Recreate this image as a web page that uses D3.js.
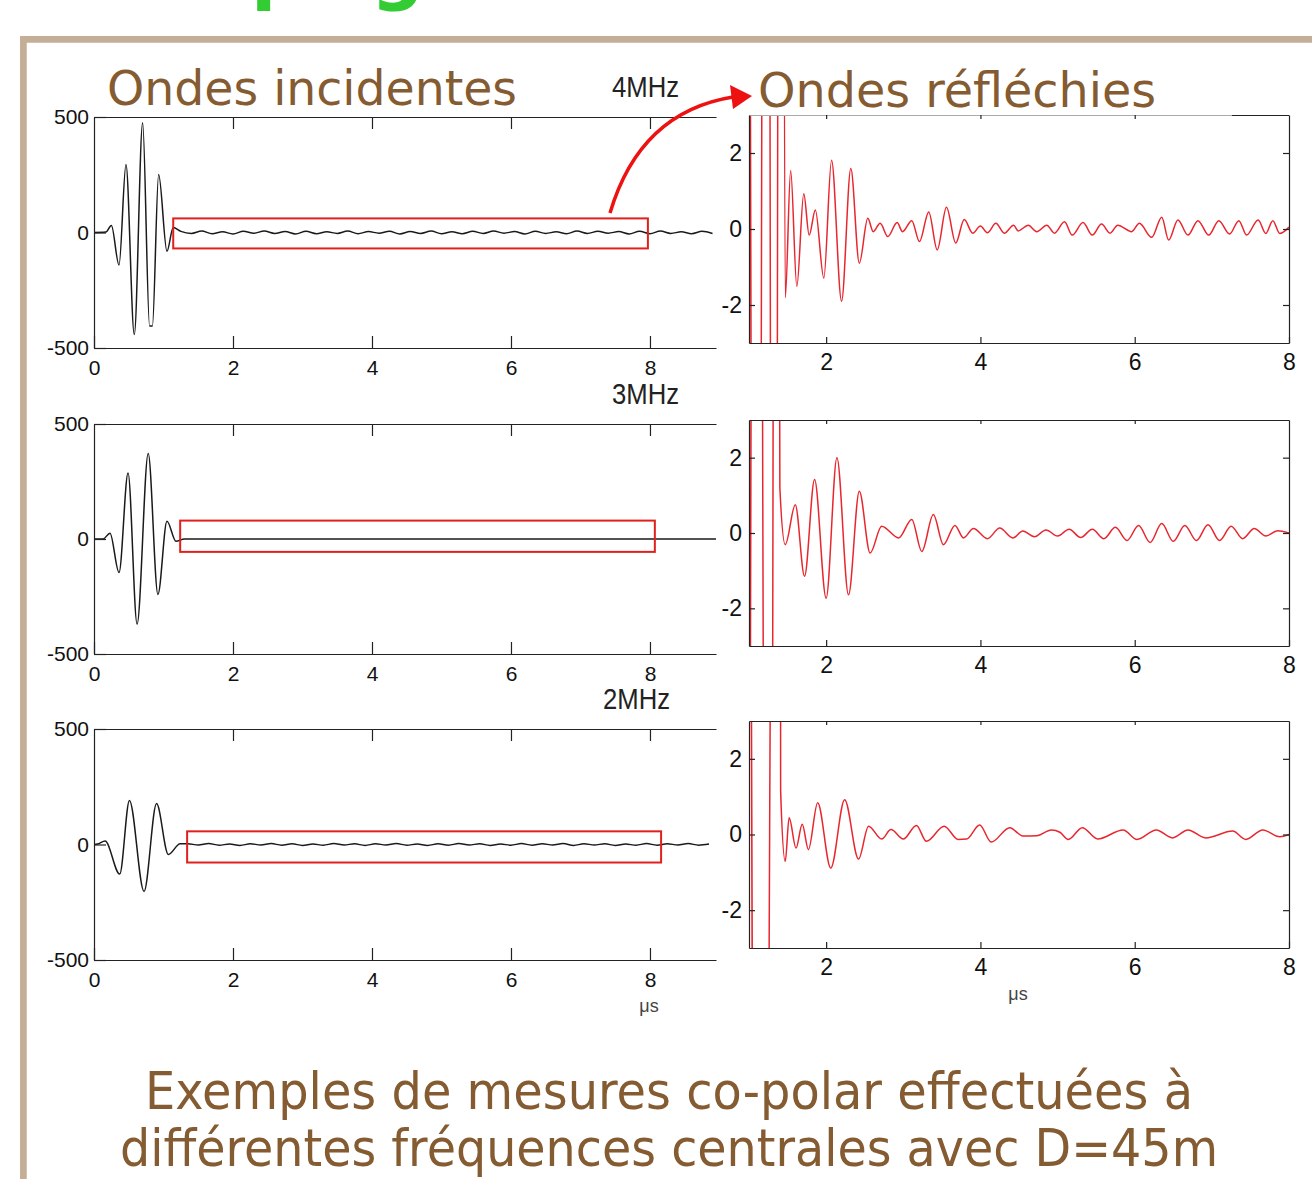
<!DOCTYPE html>
<html>
<head>
<meta charset="utf-8">
<script src="https://cdn.jsdelivr.net/npm/d3@7"></script>
<style>
  body { margin: 0; background: #fff; }
  svg { display: block; }
</style>
</head>
<body>
<div id="chart"></div>
<script>
// ---- valeurs ----
var freqs = ["4MHz", "3MHz", "2MHz"];
var xTicksInc = [0, 2, 4, 6, 8];
var yTicksInc = [500, 0, -500];
var xTicksRef = [2, 4, 6, 8];
var yTicksRef = [2, 0, -2];

// ondes incidentes : [t (µs), amplitude]
var inc4 = [[0, 0], [0.17, 2], [0.25, 30], [0.36, -141], [0.46, 294], [0.58, -442], [0.70, 475],
            [0.80, -405], [0.84, -405], [0.93, 251], [1.05, -81], [1.14, 22]];
var inc3 = [[0, 0], [0.13, 0], [0.23, 25], [0.36, -146], [0.49, 287], [0.62, -370], [0.78, 372],
            [0.92, -241], [1.05, 77], [1.18, -10], [1.30, 0], [8.95, 0]];
var inc2 = [[0, 0], [0.05, 2], [0.16, 15], [0.37, -128], [0.51, 191], [0.72, -203], [0.90, 177],
            [1.07, -43], [1.24, 3]];
// petites oscillations apres l'impulsion, un point tous les 0.15 µs
var tail4 = [5, -4, 6, -5, 3, -6, 5, -3, 6, -4, 4, -6, 5, -5, 3, -4, 6, -5, 4, -3, 5, -6, 4, -4, 6, -5,
             3, -5, 5, -4, 6, -3, 4, -6, 5, -4, 3, -5, 6, -4, 5, -3, 4, -6, 5, -5, 6, -4, 3, -5, 5, -4];
var tail2 = [3, -2, 4, -3, 2, -4, 3, -2, 4, -3, 3, -4, 2, -3, 4, -2, 3, -4, 3, -2, 4, -3, 2, -4, 3,
             -3, 4, -2, 3, -4, 2, -3, 4, -3, 3, -2, 4, -4, 3, -2, 3, -4, 2, -3, 4, -3, 3, -2, 4, -3, 2];

// ondes reflechies (zoom), les grandes valeurs sortent du cadre
var ref4 = [[0.98, 40], [1.10, -40], [1.225, 40], [1.325, -40], [1.415, 40], [1.47, -1.81], [1.54, 1.54],
            [1.62, -1.51], [1.71, 0.93], [1.78, -0.16], [1.86, 0.50], [1.97, -1.29], [2.07, 1.81],
            [2.20, -1.90], [2.32, 1.59], [2.43, -0.90], [2.54, 0.28], [2.61, -0.07], [2.70, 0.15],
            [2.80, -0.20], [2.92, 0.17], [2.99, -0.07], [3.11, 0.22], [3.21, -0.33], [3.33, 0.45],
            [3.44, -0.55], [3.56, 0.57], [3.68, -0.37], [3.79, 0.25], [3.90, -0.11], [4.00, 0.08],
            [4.09, -0.10], [4.20, 0.15], [4.31, -0.11], [4.43, 0.10], [4.49, -0.05], [4.62, 0.10],
            [4.73, -0.07], [4.86, 0.10], [4.96, -0.11], [5.09, 0.19], [5.19, -0.16], [5.33, 0.17],
            [5.45, -0.16], [5.57, 0.13], [5.68, -0.11], [5.78, 0.10], [5.96, -0.07], [6.06, 0.15],
            [6.22, -0.22], [6.35, 0.31], [6.44, -0.29], [6.56, 0.24], [6.69, -0.16], [6.82, 0.22],
            [6.96, -0.16], [7.09, 0.22], [7.23, -0.13], [7.35, 0.22], [7.45, -0.16], [7.60, 0.24],
            [7.70, -0.12], [7.79, 0.22], [7.88, -0.12], [8.0, 0.05]];
var ref3 = [[0.98, -40], [1.10, 40], [1.26, -40], [1.36, 40], [1.40, 1.2], [1.47, -0.31], [1.60, 0.75],
            [1.72, -1.15], [1.85, 1.42], [2.00, -1.73], [2.14, 2.0], [2.29, -1.64], [2.43, 1.11],
            [2.57, -0.53], [2.72, 0.18], [2.94, -0.13], [3.11, 0.36], [3.24, -0.49], [3.39, 0.49],
            [3.52, -0.31], [3.67, 0.20], [3.78, -0.13], [3.91, 0.12], [4.09, -0.15], [4.25, 0.13],
            [4.42, -0.13], [4.55, 0.05], [4.70, -0.10], [4.85, 0.08], [5.00, -0.08], [5.15, 0.10],
            [5.30, -0.12], [5.45, 0.10], [5.60, -0.15], [5.75, 0.15], [5.90, -0.20], [6.05, 0.20],
            [6.20, -0.25], [6.35, 0.25], [6.50, -0.22], [6.65, 0.20], [6.80, -0.20], [6.95, 0.22],
            [7.10, -0.20], [7.25, 0.18], [7.40, -0.15], [7.55, 0.12], [7.70, -0.08], [7.85, 0.06], [8.0, 0.0]];
var ref2 = [[0.98, 40], [1.14, -40], [1.395, 40], [1.41, 1.16], [1.47, -0.71], [1.52, 0.44], [1.61, -0.36],
            [1.69, 0.27], [1.77, -0.40], [1.89, 0.84], [2.06, -0.89], [2.24, 0.92], [2.42, -0.65],
            [2.55, 0.22], [2.72, -0.12], [2.84, 0.13], [3.00, -0.12], [3.17, 0.24], [3.30, -0.18],
            [3.53, 0.22], [3.71, -0.13], [3.82, -0.12], [3.99, 0.25], [4.14, -0.20], [4.38, 0.18],
            [4.55, -0.04], [4.73, -0.03], [4.92, 0.12], [5.03, 0.06], [5.14, -0.13], [5.32, 0.18],
            [5.52, -0.12], [5.85, 0.12], [6.03, -0.13], [6.28, 0.12], [6.49, -0.09], [6.69, 0.12],
            [6.92, -0.09], [7.27, 0.09], [7.44, -0.13], [7.66, 0.12], [7.88, -0.06], [8.0, 0.0]];

// cadres rouges sur les ondes incidentes : t debut, t fin, haut, bas
var zoomBoxes = [[1.14, 7.97, 61, -69], [1.24, 8.07, 80, -56], [1.34, 8.16, 57, -78]];

// ---- mise en page ----
var W = 1312, H = 1179;
var brown = "#855b31";
var incRows = [[117, 348], [424, 654], [729, 960]];
var refRows = [[115, 343], [420, 646], [721, 948]];
var tickFont = "'Liberation Sans', Arial, sans-serif";

function addTail(base, tail, t0) {
  return base.concat(tail.map(function(v, i) { return [t0 + i * 0.15, v]; }));
}
var incSeries = [addTail(inc4, tail4, 1.25), inc3, addTail(inc2, tail2, 1.35)];
var refSeries = [ref4, ref3, ref2];

var xInc = d3.scaleLinear().domain([0, 8.95]).range([94, 716]);
var xRef = d3.scaleLinear().domain([1, 8]).range([749, 1289]);

var svg = d3.select("#chart").append("svg")
  .attr("width", W)
  .attr("height", H);

svg.append("rect").attr("width", W).attr("height", H).attr("fill", "#fff");

// titre vert coupe en haut
svg.append("text").attr("x", 251).attr("y", -5).text("p")
  .style("font", "bold 74px 'DejaVu Sans'").attr("fill", "#33cc33");
svg.append("text").attr("x", 371).attr("y", -5).text("g")
  .style("font", "bold 74px 'DejaVu Sans'").attr("fill", "#33cc33");

// cadre beige de la diapo
svg.append("path")
  .attr("d", "M23.4,1179V39.4H1312")
  .attr("fill", "none")
  .attr("stroke", "#c5ae98")
  .attr("stroke-width", 6.7);

function styleAxis(g, size) {
  g.selectAll("path.domain").attr("stroke", "#222").attr("stroke-width", 1.2);
  g.selectAll(".tick line").attr("stroke", "#222").attr("stroke-width", 1.2);
  g.selectAll("text")
    .attr("fill", "#111")
    .style("font-family", tickFont)
    .style("font-size", size + "px");
}
var fmt = function(d) { return String(d); };

// ---- panneaux de gauche : ondes incidentes ----
incRows.forEach(function(row, i) {
  var y = d3.scaleLinear().domain([-500, 500]).range([row[1], row[0]]);
  var g = svg.append("g");

  g.append("clipPath").attr("id", "clipInc" + i)
    .append("rect")
    .attr("x", xInc.range()[0]).attr("y", row[0])
    .attr("width", xInc.range()[1] - xInc.range()[0]).attr("height", row[1] - row[0]);

  var line = d3.line()
    .x(function(d) { return xInc(d[0]); })
    .y(function(d) { return y(d[1]); })
    .curve(d3.curveMonotoneX);

  g.append("path")
    .datum(incSeries[i])
    .attr("clip-path", "url(#clipInc" + i + ")")
    .attr("d", line)
    .attr("fill", "none")
    .attr("stroke", "#1a1a1a")
    .attr("stroke-width", 1.5);

  g.append("g").attr("transform", "translate(0," + row[1] + ")")
    .call(d3.axisBottom(xInc).tickValues(xTicksInc).tickSize(-12).tickSizeOuter(0).tickPadding(12).tickFormat(fmt))
    .call(styleAxis, 21);
  g.append("g").attr("transform", "translate(0," + row[0] + ")")
    .call(d3.axisTop(xInc).tickValues(xTicksInc.slice(1)).tickSize(-12).tickSizeOuter(0).tickFormat(""))
    .call(styleAxis, 21);
  g.append("g").attr("transform", "translate(" + xInc.range()[0] + ",0)")
    .call(d3.axisLeft(y).tickValues(yTicksInc).tickSize(-12).tickSizeOuter(0).tickPadding(5).tickFormat(fmt))
    .call(styleAxis, 21);

  // zone agrandie a droite
  var b = zoomBoxes[i];
  g.append("rect")
    .attr("x", xInc(b[0])).attr("y", y(b[2]))
    .attr("width", xInc(b[1]) - xInc(b[0])).attr("height", y(b[3]) - y(b[2]))
    .attr("fill", "none")
    .attr("stroke", "#e0201c")
    .attr("stroke-width", 2);

  g.append("text")
    .attr("x", [612, 612, 603][i]).attr("y", row[0] - 20)
    .attr("textLength", 67).attr("lengthAdjust", "spacingAndGlyphs")
    .style("font-family", tickFont).style("font-size", "30px")
    .attr("fill", "#222")
    .text(freqs[i]);
});

// ---- panneaux de droite : ondes reflechies ----
refRows.forEach(function(row, i) {
  var y = d3.scaleLinear().domain([-3, 3]).range([row[1], row[0]]);
  var g = svg.append("g");

  g.append("clipPath").attr("id", "clipRef" + i)
    .append("rect")
    .attr("x", xRef.range()[0]).attr("y", row[0])
    .attr("width", xRef.range()[1] - xRef.range()[0]).attr("height", row[1] - row[0]);

  var line = d3.line()
    .x(function(d) { return xRef(d[0]); })
    .y(function(d) { return y(d[1]); })
    .curve(d3.curveMonotoneX);

  g.append("path")
    .datum(refSeries[i])
    .attr("clip-path", "url(#clipRef" + i + ")")
    .attr("d", line)
    .attr("fill", "none")
    .attr("stroke", "#e8262e")
    .attr("stroke-width", 1.5);

  g.append("g").attr("transform", "translate(0," + row[1] + ")")
    .call(d3.axisBottom(xRef).tickValues(xTicksRef).tickSize(-6).tickSizeOuter(0).tickPadding(11).tickFormat(fmt))
    .call(styleAxis, 23);
  var top = g.append("g").attr("transform", "translate(0," + row[0] + ")")
    .call(d3.axisTop(xRef).tickValues([2, 4, 6]).tickSize(-4).tickSizeOuter(0).tickFormat(""))
    .call(styleAxis, 23);
  g.append("g").attr("transform", "translate(" + xRef.range()[0] + ",0)")
    .call(d3.axisLeft(y).tickValues(yTicksRef).tickSize(-6).tickSizeOuter(0).tickPadding(7).tickFormat(fmt))
    .call(styleAxis, 23);
  g.append("g").attr("transform", "translate(" + xRef.range()[1] + ",0)")
    .call(d3.axisRight(y).tickValues(yTicksRef).tickSize(-6).tickSizeOuter(0).tickFormat(""))
    .call(styleAxis, 23);

  if (i === 0) {
    // le titre recouvre en partie le bord haut
    top.select("path.domain").attr("stroke", "#aaa").attr("stroke-width", 1);
    g.append("line")
      .attr("x1", xRef(7.26)).attr("x2", xRef(8))
      .attr("y1", row[0] + 0.5).attr("y2", row[0] + 0.5)
      .attr("stroke", "#222").attr("stroke-width", 1.2);
  }
});

// unites
[[649, incRows[2][1] + 52], [1018, refRows[2][1] + 52]].forEach(function(p) {
  svg.append("text")
    .attr("x", p[0]).attr("y", p[1])
    .attr("text-anchor", "middle")
    .style("font-family", tickFont).style("font-size", "18px")
    .attr("fill", "#444")
    .text("μs");
});

// titres
svg.append("text")
  .attr("x", 107).attr("y", 105)
  .attr("textLength", 410).attr("lengthAdjust", "spacingAndGlyphs")
  .style("font-family", "'DejaVu Sans', Verdana, sans-serif").style("font-size", "48px")
  .attr("fill", brown)
  .text("Ondes incidentes");
svg.append("text")
  .attr("x", 758).attr("y", 107)
  .attr("textLength", 398).attr("lengthAdjust", "spacingAndGlyphs")
  .style("font-family", "'DejaVu Sans', Verdana, sans-serif").style("font-size", "48px")
  .attr("fill", brown)
  .text("Ondes réfléchies");

// fleche rouge
svg.append("path")
  .attr("d", "M610,213 Q640,112 733,97")
  .attr("fill", "none")
  .attr("stroke", "#ee1111")
  .attr("stroke-width", 3.5);
svg.append("path")
  .attr("d", "M752,96 L730,85 L733,109 Z")
  .attr("fill", "#ee1111");

// legende du bas
var caption = [["Exemples de mesures co-polar effectuées à", 1109, 1048],
               ["différentes fréquences centrales avec D=45m", 1166, 1098]];
caption.forEach(function(c) {
  svg.append("text")
    .attr("x", 669).attr("y", c[1])
    .attr("text-anchor", "middle")
    .attr("textLength", c[2]).attr("lengthAdjust", "spacingAndGlyphs")
    .style("font-family", "'DejaVu Sans', Verdana, sans-serif").style("font-size", "51px")
    .attr("fill", brown)
    .text(c[0]);
});
</script>
</body>
</html>
